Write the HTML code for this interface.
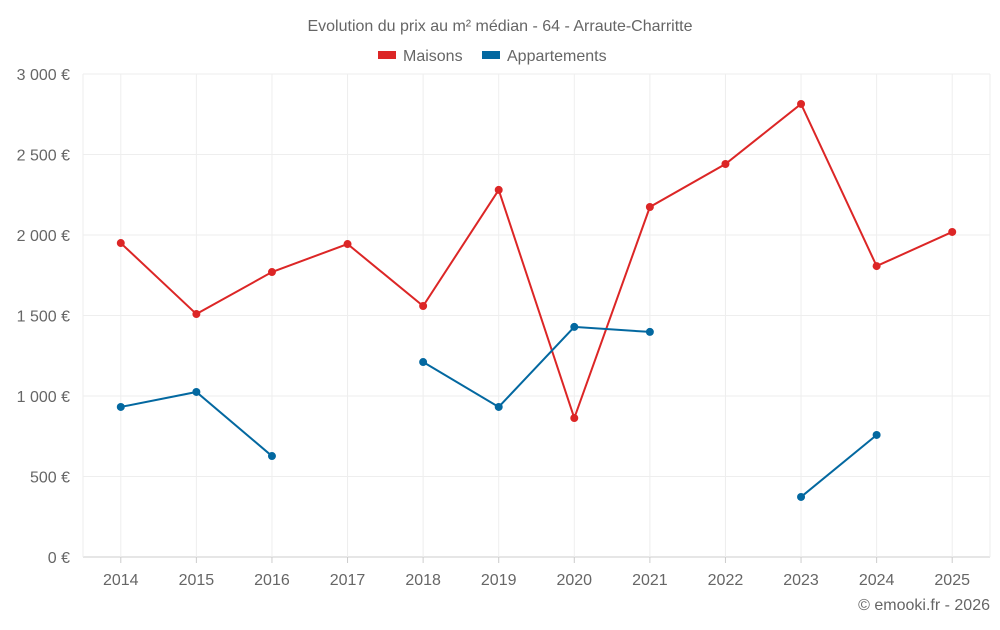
<!DOCTYPE html>
<html><head><meta charset="utf-8"><style>
body{margin:0;background:#fff;font-family:"Liberation Sans",sans-serif}
svg text{font-family:"Liberation Sans",sans-serif;fill:#666}
</style></head><body>
<svg id="chart" width="1000" height="625" viewBox="0 0 1000 625">
<text x="500" y="31" text-anchor="middle" font-size="16">Evolution du prix au m² médian - 64 - Arraute-Charritte</text>
<g>
<g><rect x="378" y="51" width="18" height="8" fill="#dc2626"/><text x="403" y="61" font-size="16">Maisons</text></g>
<g><rect x="482" y="51" width="18" height="8" fill="#0368a0"/><text x="507" y="61" font-size="16">Appartements</text></g>
</g>
<g id="grid"></g><g id="axes"></g><g id="series"></g>
<text x="990" y="610" text-anchor="end" font-size="16">© emooki.fr - 2026</text>
</svg>
<script>
const categories=["2014","2015","2016","2017","2018","2019","2020","2021","2022","2023","2024","2025"];
const maisons=[1950,1509,1770,1944,1559,2280,863,2174,2441,2814,1807,2019];
const appartements=[932,1025,627,null,1211,932,1429,1398,null,373,758,null];
const yTicks=[0,500,1000,1500,2000,2500,3000];
const yTickLabels=["0 €","500 €","1 000 €","1 500 €","2 000 €","2 500 €","3 000 €"];
const NS="http://www.w3.org/2000/svg";
const L=83,R=990,T=74,B=557,yMax=3000;
const bw=(R-L)/categories.length;
const x=i=>L+(i+0.5)*bw;
const y=v=>B-(v/yMax)*(B-T);
function mk(tag,attrs,parent){const e=document.createElementNS(NS,tag);for(const k in attrs)e.setAttribute(k,attrs[k]);parent.appendChild(e);return e;}
const grid=document.getElementById('grid'),axes=document.getElementById('axes'),ser=document.getElementById('series');
yTicks.forEach((t,i)=>{
 const ln=mk('line',{x1:L,x2:R,y1:y(t),y2:y(t),stroke:i===0?'#ccc':'#eee'},grid);
 
 
 const tx=mk('text',{x:70,y:y(t)+6,'text-anchor':'end','font-size':16},axes);
 tx.textContent=yTickLabels[i];
 
 
});
[L,R].forEach(px=>{
 const ln=mk('line',{x1:px,x2:px,y1:T,y2:B,stroke:'#eee'},grid);
 
 
});
categories.forEach((c,i)=>{
 const gl=mk('line',{x1:x(i),x2:x(i),y1:T,y2:B,stroke:'#eee'},grid);
 
 
 const tk=mk('line',{x1:x(i),x2:x(i),y1:B,y2:B+6,stroke:'#ccc'},axes);
 
 
 const tx=mk('text',{x:x(i),y:585,'text-anchor':'middle','font-size':16},axes);
 tx.textContent=c;
 
 
});
function draw(data,color,name){
 let seg=[];const segs=[];
 data.forEach((v,i)=>{if(v==null){if(seg.length)segs.push(seg);seg=[];}else seg.push([x(i),y(v)]);});
 if(seg.length)segs.push(seg);
 segs.forEach(s=>{if(s.length>1){
  const p=mk('polyline',{points:s.map(q=>q.join(',')).join(' '),fill:'none',stroke:color,'stroke-width':2},ser);
  
  
 }});
 data.forEach((v,i)=>{if(v==null)return;
  const c=mk('circle',{cx:x(i),cy:y(v),r:4,fill:color},ser);
  
  
 });
}
draw(maisons,'#dc2626','maisons');
draw(appartements,'#0368a0','appartements');
</script>
</body></html>
